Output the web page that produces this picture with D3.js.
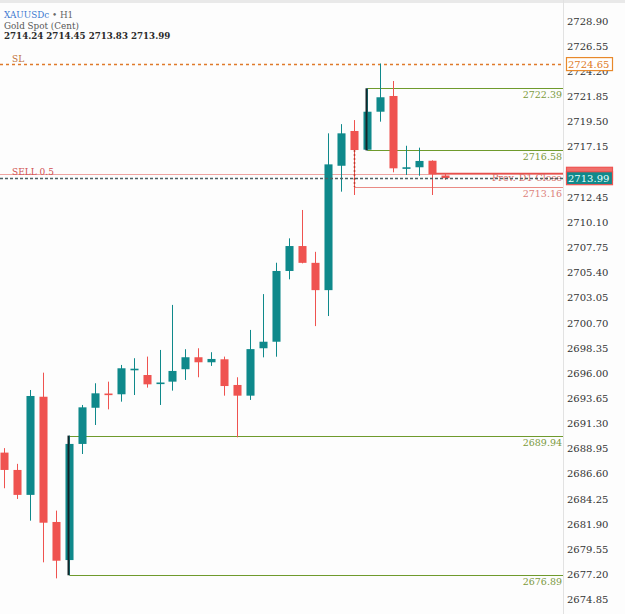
<!DOCTYPE html>
<html>
<head>
<meta charset="utf-8">
<script src="https://cdn.jsdelivr.net/npm/d3@7"></script>
<style>
  html, body { margin: 0; padding: 0; background: #fff; }
  #chart { width: 625px; height: 614px; }
</style>
</head>
<body>
<div id="chart"></div>
<script>
// XAUUSDc H1 candles (oldest first)
const opens  = [2688.35, 2686.73, 2684.40, 2693.57, 2681.87, 2678.31, 2689.16, 2692.54, 2693.87, 2693.80,
                2696.12, 2695.60, 2694.84, 2694.98, 2696.14, 2697.26, 2696.79, 2697.07, 2694.67, 2693.67,
                2698.10, 2698.71, 2705.32, 2707.65, 2706.08, 2703.53, 2715.15, 2718.40, 2716.65, 2720.20,
                2721.67, 2714.95, 2715.01, 2715.62, 2714.24];
const highs  = [2688.77, 2687.30, 2694.20, 2695.82, 2682.93, 2689.94, 2692.80, 2694.83, 2694.98, 2696.54,
                2697.17, 2697.32, 2697.94, 2702.15, 2698.01, 2698.10, 2697.73, 2697.32, 2695.39, 2699.81,
                2703.16, 2706.09, 2708.37, 2711.02, 2707.11, 2718.18, 2719.04, 2719.42, 2722.39, 2724.70,
                2723.07, 2717.02, 2716.84, 2715.66, 2714.45];
const lows   = [2685.02, 2684.02, 2681.99, 2678.10, 2676.60, 2676.89, 2688.22, 2690.93, 2692.39, 2693.11,
                2693.73, 2694.42, 2692.80, 2694.14, 2695.14, 2695.39, 2696.45, 2693.67, 2689.78, 2693.27,
                2697.25, 2697.31, 2704.54, 2706.03, 2700.17, 2701.11, 2712.73, 2712.42, 2716.58, 2719.27,
                2714.54, 2714.29, 2714.22, 2712.42, 2713.83];
const closes = [2686.73, 2684.40, 2693.64, 2681.80, 2678.25, 2689.16, 2692.58, 2693.89, 2693.83, 2696.23,
                2696.19, 2694.73, 2694.90, 2695.98, 2697.26, 2696.79, 2697.10, 2694.57, 2693.67, 2698.02,
                2698.71, 2705.32, 2707.65, 2706.08, 2703.53, 2715.28, 2718.18, 2716.62, 2720.20, 2721.55,
                2714.91, 2715.01, 2715.60, 2714.35, 2713.99];

// price scale labels
const tickLabels = ["2728.90", "2726.55", "2724.20", "2721.85", "2719.50", "2717.15", "2714.80", "2712.45",
                    "2710.10", "2707.75", "2705.40", "2703.05", "2700.70", "2698.35", "2696.00", "2693.65",
                    "2691.30", "2688.95", "2686.60", "2684.25", "2681.90", "2679.55", "2677.20", "2674.85"];

// drawn levels: price, candle index the line starts from, colour group
const levelPrices = [2722.39, 2716.58, 2713.16, 2689.94, 2676.89];
const levelStarts = [28, 28, 27, 5, 5];
const levelKinds  = ["green", "green", "red", "green", "green"];

const slPrice = 2724.65;
const sellPrice = 2714.40;
const sellLabel = "SELL 0.5";
const prevClosePrice = 2714.45;
const prevCloseLabel = "Prev. D1 Close";
const lastPrice = 2713.99;
const headerSymbol = "XAUUSDc";
const headerPeriod = " \u2022 H1";
const headerName = "Gold Spot (Cent)";
const headerOHLC = "2714.24 2714.45 2713.83 2713.99";

const width = 625, height = 614;
const plotRight = 563;
const font = "'DejaVu Serif', serif";

const upColor = "#0f898b";
const downColor = "#ef5350";
const greenLine = "#6f9a2c";
const greenText = "#7b9a3e";
const redLine = "#ea8a84";

const svg = d3.select("#chart").append("svg")
  .attr("width", width)
  .attr("height", height)
  .style("display", "block")
  .style("font-family", font);

svg.append("rect").attr("width", width).attr("height", height).attr("fill", "#fdfdfd");
svg.append("rect").attr("width", width).attr("height", 3).attr("fill", "#e9e9e9");

const y = d3.scaleLinear().domain([2674.85, 2728.90]).range([597.1, 18.6]);
const x = d3.scaleBand()
  .domain(d3.range(opens.length))
  .range([-2.48, -2.48 + 12.96 * opens.length])
  .paddingInner(0.38)
  .paddingOuter(0.19);
const bw = x.bandwidth();
const cx = i => Math.round(x(i) + bw / 2) + 0.5;

const candles = opens.map((o, i) => ({ i, o, h: highs[i], l: lows[i], c: closes[i] }));

// axis separator
svg.append("line")
  .attr("x1", plotRight + 0.5).attr("x2", plotRight + 0.5)
  .attr("y1", 0).attr("y2", height)
  .attr("stroke", "#e2e2e2");

// price axis
const axis = svg.append("g")
  .attr("transform", `translate(${plotRight},0)`)
  .call(d3.axisRight(y)
    .tickValues(tickLabels.map(Number))
    .tickFormat(d3.format(".2f"))
    .tickSize(0)
    .tickPadding(4));
axis.select(".domain").remove();
axis.selectAll("text")
  .attr("dy", "0.56em")
  .attr("font-family", font)
  .attr("font-size", 10)
  .attr("fill", "#333");

// header
const head = svg.append("g").attr("font-family", font);
const t1 = head.append("text").attr("x", 4).attr("y", 18).attr("font-size", 8.8);
t1.append("tspan").attr("fill", "#3b78d0").text(headerSymbol);
t1.append("tspan").attr("fill", "#666").text(headerPeriod);
head.append("text").attr("x", 4).attr("y", 28.7).attr("font-size", 8.8).attr("fill", "#555").text(headerName);
head.append("text").attr("x", 4).attr("y", 39).attr("font-size", 8.7).attr("font-weight", "bold")
  .attr("fill", "#2a2a2a").text(headerOHLC);

// SL line
const ySL = Math.round(y(slPrice)) + 0.5;
svg.append("line")
  .attr("x1", 0).attr("x2", plotRight)
  .attr("y1", ySL).attr("y2", ySL)
  .attr("stroke", "#e07a2a").attr("stroke-width", 1.4)
  .attr("stroke-dasharray", "3,3");
svg.append("text").attr("x", 12).attr("y", ySL - 3)
  .attr("font-size", 9).attr("fill", "#c0703a").text("SL");

// SELL line
const ySell = Math.round(y(sellPrice)) + 0.5;
svg.append("line")
  .attr("x1", 0).attr("x2", plotRight)
  .attr("y1", ySell).attr("y2", ySell)
  .attr("stroke", "#eea3a0").attr("stroke-width", 1);
svg.append("text").attr("x", 12).attr("y", ySell)
  .attr("font-size", 9).attr("fill", "#d05050").text(sellLabel);

// levels
levelPrices.forEach((p, k) => {
  const yy = Math.round(y(p)) + 0.5;
  const col = levelKinds[k] === "green" ? greenLine : redLine;
  svg.append("line")
    .attr("x1", cx(levelStarts[k])).attr("x2", plotRight)
    .attr("y1", yy).attr("y2", yy)
    .attr("stroke", col).attr("stroke-width", 1.2);
  svg.append("text")
    .attr("x", plotRight - 1).attr("y", yy + 9)
    .attr("text-anchor", "end")
    .attr("font-size", 9.5)
    .attr("fill", levelKinds[k] === "green" ? greenText : "#dc7f7a")
    .text(p.toFixed(2));
});

// previous D1 close
const yPrev = Math.round(y(prevClosePrice)) + 0.5;
svg.append("line")
  .attr("x1", cx(33)).attr("x2", plotRight)
  .attr("y1", yPrev).attr("y2", yPrev)
  .attr("stroke", "#e8504c").attr("stroke-width", 1.6);
svg.append("text")
  .attr("x", plotRight - 1).attr("y", yPrev + 7.5)
  .attr("text-anchor", "end")
  .attr("font-size", 9.5)
  .attr("fill", "#d8706a")
  .text(prevCloseLabel);

// candles
const cg = svg.append("g");
cg.selectAll("line.wick")
  .data(candles)
  .enter()
  .append("line")
  .attr("class", "wick")
  .attr("x1", d => cx(d.i)).attr("x2", d => cx(d.i))
  .attr("y1", d => y(d.h)).attr("y2", d => y(d.l))
  .attr("stroke", d => d.c >= d.o ? upColor : downColor)
  .attr("stroke-width", 1);
cg.selectAll("rect.body")
  .data(candles)
  .enter()
  .append("rect")
  .attr("class", "body")
  .attr("x", d => cx(d.i) - bw / 2)
  .attr("width", bw)
  .attr("y", d => y(Math.max(d.o, d.c)))
  .attr("height", d => Math.max(1.6, Math.abs(y(d.o) - y(d.c))))
  .attr("fill", d => d.c >= d.o ? upColor : downColor);

// range markers (black verticals) and dashed red link
[[5, 3, 4], [28, 0, 1]].forEach(([i, a, b]) => {
  svg.append("line")
    .attr("x1", cx(i) - 1).attr("x2", cx(i) - 1)
    .attr("y1", y(levelPrices[a])).attr("y2", y(levelPrices[b]))
    .attr("stroke", "#14262a").attr("stroke-width", 2);
});
svg.append("line")
  .attr("x1", cx(27)).attr("x2", cx(27))
  .attr("y1", y(closes[27])).attr("y2", y(levelPrices[2]))
  .attr("stroke", "#c0392b").attr("stroke-width", 1.5)
  .attr("stroke-dasharray", "2,2");

// current price dashed line
const yLast = Math.round(y(lastPrice)) + 0.5;
svg.append("line")
  .attr("x1", 0).attr("x2", plotRight)
  .attr("y1", yLast).attr("y2", yLast)
  .attr("stroke", "#4d6063").attr("stroke-width", 1.4)
  .attr("stroke-dasharray", "3,2");

// axis price boxes
function priceBox(price, fill, stroke, textColor, withText) {
  const yy = y(price);
  svg.append("rect")
    .attr("x", 566.5).attr("y", yy - 6.5)
    .attr("width", 46).attr("height", 13)
    .attr("fill", fill).attr("stroke", stroke).attr("stroke-width", 1.2);
  if (!withText) return;
  svg.append("text")
    .attr("x", 568).attr("y", yy)
    .attr("dy", "0.36em")
    .attr("font-size", 10)
    .attr("fill", textColor)
    .text(price.toFixed(2));
}
priceBox(slPrice, "#fff", "#e8892b", "#e07b1f", true);
priceBox(sellPrice, "#ef6f6b", "#ef5350", "#fff", false);
priceBox(lastPrice, "#10898b", "#ef5350", "#e8ffff", true);
</script>
</body>
</html>
